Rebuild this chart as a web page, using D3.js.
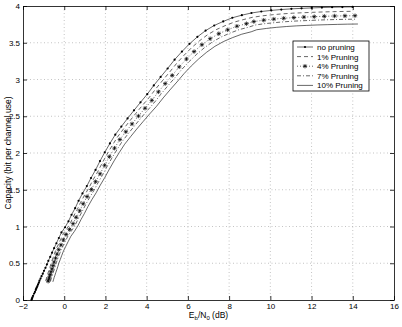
<!DOCTYPE html>
<html><head><meta charset="utf-8">
<script src="https://cdn.jsdelivr.net/npm/d3@7"></script>
<style>
body{margin:0;background:#fff}
svg{display:block}
text{font-family:"Liberation Sans",Arial,Helvetica,sans-serif;fill:#000}
</style>
</head><body>
<svg id="chart" width="402" height="327"></svg>
<script>
// ---------------- data ----------------
const xTicks = [-2,0,2,4,6,8,10,12,14,16];
const yTicks = [0,0.5,1,1.5,2,2.5,3,3.5,4];
const yTickLabels = ["0","0.5","1","1.5","2","2.5","3","3.5","4"];
const seriesNames = ["no pruning","1% Pruning","4% Pruning","7% Pruning","10% Pruning"];

const ebNoPruning = [-1.59,-1.57,-1.56,-1.54,-1.51,-1.46,-1.42,-1.38,-1.36,-1.33,-1.30,-1.27,-1.23,-1.20,-1.15,-1.10,-1.04,-0.98,-0.91,-0.84,-0.77,-0.68,-0.59,-0.49,-0.38,-0.26,-0.135,0.04,0.206,0.355,0.531,0.697,0.886,1.097,1.299,1.520,1.735,1.968,2.216,2.478,2.771,3.073,3.384,3.702,4.028,4.346,4.678,5.017,5.355,5.711,6.078,6.461,6.859,7.277,7.714,8.157,8.618,9.084,9.562,10.045,10.532,11.022,11.514,12.007,12.502,12.998,13.495,13.992];
const capNoPruning = [0,0.0144,0.0227,0.0358,0.0563,0.0883,0.110,0.1375,0.1535,0.1711,0.1907,0.2124,0.2363,0.2628,0.2918,0.3235,0.358,0.3964,0.4379,0.4835,0.5329,0.5864,0.6437,0.7057,0.772,0.8434,0.9194,0.99,1.07,1.16,1.25,1.35,1.45,1.55,1.66,1.77,1.89,2.01,2.13,2.25,2.36,2.47,2.58,2.69,2.80,2.92,3.035,3.15,3.27,3.38,3.485,3.58,3.665,3.735,3.79,3.84,3.875,3.905,3.925,3.94,3.952,3.961,3.968,3.974,3.979,3.983,3.986,3.988];

const eb1 = [-0.90,-0.87,-0.84,-0.80,-0.76,-0.71,-0.66,-0.61,-0.54,-0.47,-0.39,-0.28,-0.16,-0.04,0.14,0.31,0.46,0.63,0.80,0.99,1.20,1.40,1.62,1.84,2.07,2.32,2.58,2.87,3.17,3.48,3.80,4.13,4.45,4.78,5.12,5.46,5.81,6.18,6.56,6.96,7.38,7.81,8.26,8.72,9.13,9.61,10.10,10.58,11.07,11.56,12.06,12.55,13.05,13.55,14.04];
const cap1 = [0.259,0.287,0.319,0.353,0.390,0.431,0.476,0.525,0.578,0.634,0.695,0.760,0.831,0.906,0.975,1.054,1.143,1.231,1.330,1.428,1.527,1.635,1.743,1.862,1.980,2.098,2.216,2.325,2.433,2.541,2.650,2.758,2.876,2.989,3.103,3.221,3.329,3.433,3.526,3.610,3.679,3.733,3.782,3.817,3.846,3.866,3.881,3.893,3.902,3.908,3.914,3.919,3.923,3.926,3.928];

const eb4 = [-0.78,-0.75,-0.72,-0.68,-0.64,-0.59,-0.54,-0.49,-0.42,-0.35,-0.27,-0.16,-0.04,0.09,0.26,0.43,0.58,0.75,0.92,1.11,1.32,1.52,1.74,1.96,2.19,2.44,2.70,2.99,3.29,3.60,3.92,4.25,4.57,4.90,5.24,5.58,5.93,6.30,6.68,7.08,7.50,7.93,8.38,8.84,9.20,9.68,10.17,10.65,11.14,11.63,12.13,12.62,13.12,13.62,14.11];
const cap4 = [0.255,0.283,0.314,0.347,0.385,0.425,0.469,0.517,0.569,0.624,0.685,0.749,0.818,0.892,0.960,1.038,1.125,1.213,1.310,1.407,1.504,1.610,1.717,1.833,1.950,2.066,2.183,2.289,2.396,2.503,2.609,2.716,2.832,2.944,3.056,3.172,3.279,3.380,3.473,3.555,3.623,3.676,3.725,3.759,3.788,3.807,3.822,3.833,3.842,3.849,3.855,3.860,3.864,3.866,3.868];

const eb7 = [-0.67,-0.64,-0.61,-0.57,-0.53,-0.48,-0.43,-0.38,-0.31,-0.24,-0.16,-0.05,0.07,0.20,0.37,0.54,0.69,0.86,1.03,1.22,1.43,1.63,1.85,2.07,2.30,2.55,2.81,3.10,3.40,3.71,4.03,4.36,4.68,5.01,5.35,5.69,6.04,6.41,6.79,7.19,7.61,8.04,8.49,8.95,9.26,9.74,10.23,10.71,11.20,11.69,12.19,12.68,13.18,13.68,14.17];
const cap7 = [0.252,0.280,0.310,0.343,0.380,0.420,0.463,0.511,0.562,0.617,0.676,0.740,0.808,0.881,0.948,1.025,1.111,1.198,1.293,1.389,1.485,1.590,1.696,1.811,1.926,2.041,2.156,2.261,2.366,2.472,2.577,2.682,2.797,2.908,3.018,3.133,3.238,3.339,3.430,3.511,3.578,3.631,3.679,3.712,3.741,3.760,3.774,3.786,3.795,3.801,3.807,3.812,3.816,3.819,3.821];

const eb10 = [-0.55,-0.52,-0.49,-0.45,-0.41,-0.36,-0.31,-0.26,-0.19,-0.12,-0.04,0.07,0.19,0.32,0.49,0.66,0.81,0.98,1.15,1.34,1.55,1.75,1.97,2.19,2.42,2.67,2.93,3.22,3.52,3.83,4.15,4.48,4.80,5.13,5.47,5.81,6.16,6.53,6.91,7.31,7.73,8.16,8.61,9.07,9.34,9.82,10.31,10.79,11.28,11.77,12.27,12.76,13.26,13.75,14.25];
const cap10 = [0.247,0.275,0.305,0.337,0.373,0.412,0.455,0.502,0.552,0.606,0.664,0.727,0.794,0.866,0.932,1.008,1.092,1.177,1.271,1.365,1.459,1.563,1.667,1.780,1.893,2.006,2.119,2.222,2.326,2.429,2.533,2.636,2.749,2.858,2.966,3.079,3.183,3.282,3.371,3.451,3.517,3.569,3.616,3.649,3.677,3.695,3.710,3.721,3.730,3.736,3.742,3.746,3.750,3.753,3.755];

// ---------------- chart ----------------
const svg = d3.select("#chart");
const L = 23, R = 394, T = 6, B = 300;
const x = d3.scaleLinear().domain([-2,16]).range([L,R]);
const y = d3.scaleLinear().domain([0,4]).range([B,T]);

const zip = (xs, ys) => xs.map((v,i)=>[v, ys[i]]);
const series = [
  {name: seriesNames[0], pts: zip(ebNoPruning, capNoPruning), dash: null, marker: "dot"},
  {name: seriesNames[1], pts: zip(eb1, cap1), dash: "4,3", marker: null},
  {name: seriesNames[2], pts: zip(eb4, cap4), dash: "1,2", marker: "star"},
  {name: seriesNames[3], pts: zip(eb7, cap7), dash: "4,2,1,2", marker: null},
  {name: seriesNames[4], pts: zip(eb10, cap10), dash: null, marker: null}
];

// grid
const grid = svg.append("g").attr("stroke","#aaa").attr("stroke-width",0.7).attr("stroke-dasharray","1,2.5");
grid.selectAll("line.gx").data(xTicks.slice(1,-1)).join("line")
  .attr("x1",d=>x(d)).attr("x2",d=>x(d)).attr("y1",T).attr("y2",B);
grid.selectAll("line.gy").data(yTicks.slice(1,-1)).join("line")
  .attr("y1",d=>y(d)).attr("y2",d=>y(d)).attr("x1",L).attr("x2",R);

// axes
const fs = "8px";
const ax = svg.append("g").attr("transform",`translate(0,${B})`)
  .call(d3.axisBottom(x).tickValues(xTicks).tickFormat(d=>d<0?"\u2212"+Math.abs(d):d).tickSizeInner(-4).tickSizeOuter(0).tickPadding(3));
const ay = svg.append("g").attr("transform",`translate(${L},0)`)
  .call(d3.axisLeft(y).tickValues(yTicks).tickFormat((d,i)=>yTickLabels[i]).tickSizeInner(-4).tickSizeOuter(0).tickPadding(3));
const at = svg.append("g").attr("transform",`translate(0,${T})`)
  .call(d3.axisTop(x).tickValues(xTicks).tickFormat("").tickSizeInner(-4).tickSizeOuter(0));
const ar = svg.append("g").attr("transform",`translate(${R},0)`)
  .call(d3.axisRight(y).tickValues(yTicks).tickFormat("").tickSizeInner(-4).tickSizeOuter(0));
[ax,ay,at,ar].forEach(g=>{
  g.selectAll("path,line").attr("stroke","#000").attr("stroke-width",0.8);
  g.selectAll("text").attr("font-size",fs).attr("font-family","Liberation Sans, Arial, sans-serif").attr("fill","#000");
});

// lines
const line = d3.line().x(d=>x(d[0])).y(d=>y(d[1]));
const starPath = r => `M${-r},0L${r},0M0,${-r}L0,${r}M${-0.7*r},${-0.7*r}L${0.7*r},${0.7*r}M${-0.7*r},${0.7*r}L${0.7*r},${-0.7*r}`;
series.forEach(s=>{
  svg.append("path").datum(s.pts).attr("d",line).attr("fill","none")
    .attr("stroke","#000").attr("stroke-width",0.6)
    .attr("stroke-dasharray",s.dash);
  if (s.marker==="dot"){
    svg.append("g").selectAll("circle").data(s.pts).join("circle")
      .attr("cx",d=>x(d[0])).attr("cy",d=>y(d[1])).attr("r",1.1).attr("fill","#000");
  } else if (s.marker==="star"){
    svg.append("g").selectAll("path").data(s.pts).join("path")
      .attr("transform",d=>`translate(${x(d[0])},${y(d[1])})`)
      .attr("d",starPath(2.2)).attr("stroke","#000").attr("stroke-width",0.7).attr("fill","none");
  }
});

// axis labels
const xl = svg.append("text").attr("x",(L+R)/2).attr("y",318).attr("text-anchor","middle").attr("font-size","8.5px");
xl.append("tspan").text("E");
xl.append("tspan").attr("font-size","6px").attr("dy",2).text("b");
xl.append("tspan").attr("dy",-2).text("/N");
xl.append("tspan").attr("font-size","6px").attr("dy",2).text("0");
xl.append("tspan").attr("dy",-2).text(" (dB)");

svg.append("text").attr("transform",`translate(11,${(T+B)/2}) rotate(-90)`)
  .attr("text-anchor","middle").attr("font-size","8.5px").text("Capacity (bit per channel use)");

// legend
const lg = svg.append("g");
lg.append("rect").attr("x",293).attr("y",41).attr("width",76).attr("height",50)
  .attr("fill","#fff").attr("stroke","#000").attr("stroke-width",0.8);
series.forEach((s,i)=>{
  const yy = 47 + i*9.6;
  lg.append("line").attr("x1",297).attr("x2",313).attr("y1",yy).attr("y2",yy)
    .attr("stroke","#000").attr("stroke-width",0.6).attr("stroke-dasharray",s.dash);
  if (s.marker==="dot") lg.append("circle").attr("cx",305).attr("cy",yy).attr("r",1.1).attr("fill","#000");
  if (s.marker==="star") lg.append("path").attr("transform",`translate(305,${yy})`).attr("d",starPath(2.2)).attr("stroke","#000").attr("stroke-width",0.7);
  lg.append("text").attr("x",317).attr("y",yy+3).attr("font-size","8px").text(s.name);
});
</script>
</body></html>
